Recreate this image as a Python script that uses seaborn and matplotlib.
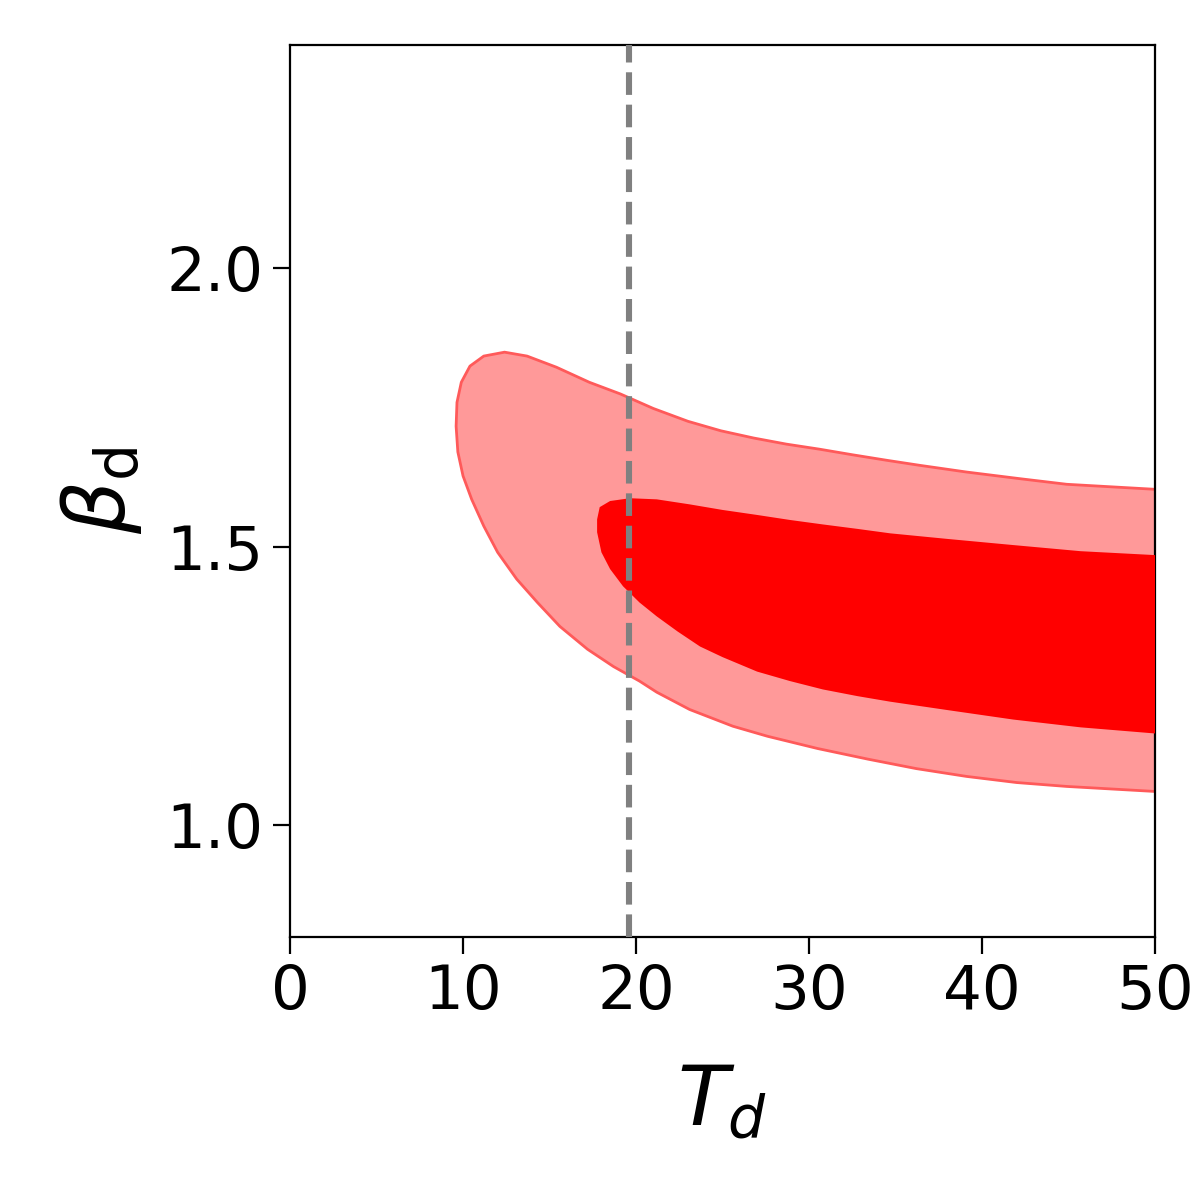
import numpy as np
import matplotlib
matplotlib.use("Agg")
import matplotlib.pyplot as plt
import seaborn as sns

# ── contour outlines (T_d, beta_d) ─────────────────────────────
# outer (2-sigma) region: right edge -> along the top -> round the left end -> back along the bottom
outer_T = [50.0, 44.9, 42.2, 39.1, 36.4, 34.5, 32.5, 30.6, 28.7, 26.8, 24.9, 23.0, 21.0,
           19.1, 17.3, 15.4, 13.7, 12.4, 11.2, 10.4, 9.9, 9.65, 9.6, 9.7, 10.0, 10.5,
           11.2, 12.0, 13.1, 14.3, 15.6, 17.2, 18.7, 20.2, 21.2, 23.1, 25.6, 27.6, 30.5,
           33.4, 36.2, 39.1, 42.0, 44.9, 50.0]
outer_beta = [1.603, 1.612, 1.622, 1.634, 1.646, 1.655, 1.665, 1.675, 1.684, 1.695, 1.708,
              1.725, 1.748, 1.774, 1.795, 1.822, 1.842, 1.849, 1.842, 1.824, 1.795, 1.759,
              1.716, 1.670, 1.627, 1.585, 1.537, 1.490, 1.442, 1.400, 1.357, 1.316, 1.285,
              1.259, 1.239, 1.208, 1.178, 1.160, 1.138, 1.119, 1.102, 1.088, 1.077, 1.070,
              1.061]

# inner (1-sigma) region
inner_T = [50.0, 45.7, 41.8, 38.0, 34.7, 32.8, 30.8, 28.9, 27.0, 25.0, 23.1, 21.2, 19.65,
           18.5, 17.9, 17.75, 17.75, 18.0, 18.5, 19.25, 20.2, 21.2, 22.4, 23.7, 25.0, 27.0,
           28.9, 30.8, 32.8, 34.7, 38.0, 41.8, 45.7, 50.0]
inner_beta = [1.485, 1.492, 1.503, 1.514, 1.524, 1.532, 1.540, 1.548, 1.557, 1.566, 1.576,
              1.585, 1.587, 1.582, 1.571, 1.549, 1.526, 1.490, 1.460, 1.429, 1.400, 1.375,
              1.348, 1.321, 1.302, 1.276, 1.259, 1.244, 1.232, 1.222, 1.207, 1.190, 1.176,
              1.165]

T_ref = 19.6  # dashed vertical line

x_ticks = [0, 10, 20, 30, 40, 50]
y_ticks = [1.0, 1.5, 2.0]

sns.set_style("ticks")
plt.rcParams["font.family"] = ["DejaVu Sans"]
plt.rcParams["mathtext.fontset"] = "dejavusans"
for k in ["text.color", "axes.labelcolor", "xtick.color", "ytick.color", "axes.edgecolor"]:
    plt.rcParams[k] = "black"

fig = plt.figure(figsize=(6, 6), dpi=200)
ax = fig.add_axes([0.2417, 0.2192, 0.7208, 0.7433])

# light outer band + its thin edge
ax.fill(outer_T, outer_beta, facecolor="#ff9999", edgecolor="none", lw=0, zorder=1)
sns.lineplot(x=outer_T, y=outer_beta, sort=False, estimator=None,
             color="#ff5a5a", lw=1.0, ax=ax, zorder=2)
# solid inner region
ax.fill(inner_T, inner_beta, facecolor="#ff0000", edgecolor="none", lw=0, zorder=3)

ax.axvline(T_ref, color="gray", ls="--", lw=2.2, zorder=4)

ax.set_xlim(0, 50)
ax.set_ylim(0.8, 2.4)
ax.set_xticks(x_ticks)
ax.set_yticks(y_ticks)
ax.set_xticklabels([str(t) for t in x_ticks])
ax.set_yticklabels([f"{t:.1f}" for t in y_ticks])
ax.tick_params(labelsize=22, length=6, width=0.8, direction="out", color="black",
               labelcolor="black")
for s in ax.spines.values():
    s.set_linewidth(0.8)
    s.set_color("black")

ax.set_xlabel(r"$T_d$", fontsize=30, labelpad=14)
ax.set_ylabel(r"$\beta_{\rm d}$", fontsize=30, labelpad=8)

fig.savefig("out.png", dpi=200, facecolor="white")
